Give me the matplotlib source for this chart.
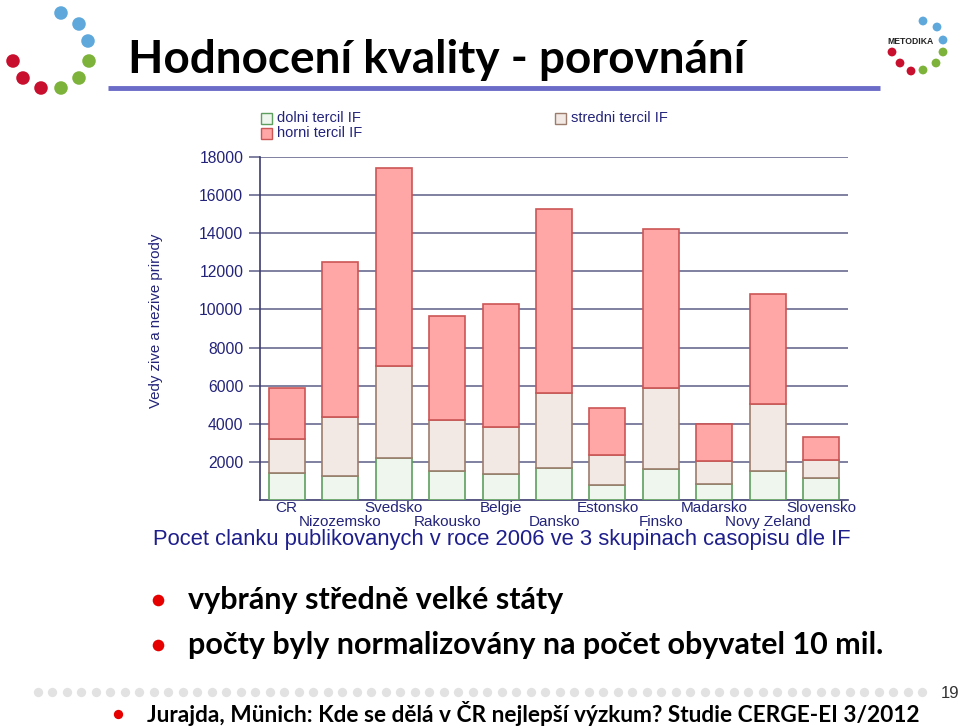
import matplotlib.pyplot as plt
import numpy as np

# data
countries = ['CR', 'Nizozemsko', 'Svedsko', 'Rakousko', 'Belgie', 'Dansko',
             'Estonsko', 'Finsko', 'Madarsko', 'Novy Zeland', 'Slovensko']
dolni = [1440, 1250, 2230, 1530, 1340, 1680, 780, 1650, 830, 1530, 1130]
stredni = [1780, 3100, 4820, 2650, 2480, 3930, 1590, 4220, 1220, 3510, 970]
horni = [2650, 8150, 10350, 5470, 6440, 9660, 2460, 8350, 1960, 5780, 1210]
series = ['dolni tercil IF', 'stredni tercil IF', 'horni tercil IF']
yticks = [2000, 4000, 6000, 8000, 10000, 12000, 14000, 16000, 18000]

title = 'Hodnocení kvality - porovnání'
bullets = ['vybrány středně velké státy',
           'počty byly normalizovány na počet obyvatel 10 mil.']
citation = 'Jurajda, Münich: Kde se dělá v ČR nejlepší výzkum? Studie CERGE-EI 3/2012'

W, H = 960, 727
navy = '#23237a'
fills = ['#eef6ee', '#f3e9e4', '#ffa6a6']
edges = ['#5e9e5e', '#9c7c6c', '#cc5555']

fig = plt.figure(figsize=(W / 100, H / 100), dpi=100)

# slide decorations, pixel coordinates
bg = fig.add_axes([0, 0, 1, 1])
bg.set_xlim(0, W)
bg.set_ylim(H, 0)
bg.axis('off')

bg.text(128, 60, title, fontsize=33, fontweight='bold', family='Lato',
        va='center', ha='left', color='black')
bg.plot([108, 880], [88, 88], color='#6b6bc8', lw=3.5, solid_capstyle='butt')

# logos
blue, green, red = '#5fa8dc', '#7db33a', '#c8102e'
lx = [61, 79, 88, 89, 79, 61, 41, 23, 13]
ly = [13, 24, 41, 61, 78, 88, 88, 78, 61]
lc = [blue] * 3 + [green] * 3 + [red] * 3
bg.scatter(lx, ly, s=95, c=lc, linewidths=0)
rx = [923, 937, 943, 943, 936, 923, 911, 900, 892]
ry = [21, 27, 40, 52, 63, 70, 71, 63, 52]
bg.scatter(rx, ry, s=40, c=lc, linewidths=0)
bg.text(910, 41, 'METODIKA', fontsize=6.2, fontweight='bold', ha='center',
        va='center', color='#222222', family='Liberation Sans')

# bullets
for i, b in enumerate(bullets):
    y = 600 + i * 45
    bg.scatter([158], [y], s=70, c='#e60000', linewidths=0)
    bg.text(188, y, b, fontsize=22, fontweight='bold', family='Lato',
            va='center', ha='left', color='black')

# footer
dx = np.linspace(38, 922, 62)
bg.scatter(dx, np.full_like(dx, 692), s=45, c='#e2e2e2', linewidths=0)
bg.text(950, 694, '19', fontsize=12, va='center', ha='center',
        family='Liberation Sans', color='#333333')
bg.scatter([118], [714], s=45, c='#e60000', linewidths=0)
bg.text(147, 714, citation, fontsize=16.3, fontweight='bold', family='Lato',
        va='center', ha='left', color='black')

# chart
ax = fig.add_axes([260 / W, 1 - 500 / H, 588 / W, 343 / H])
x = np.arange(len(countries))
bottom = np.zeros(len(countries))
for vals, f, e in zip([dolni, stredni, horni], fills, edges):
    ax.bar(x, vals, 0.675, bottom=bottom, color=f, edgecolor=e, linewidth=1.2, zorder=3)
    bottom += np.array(vals)

ax.set_xlim(-0.5, 10.5)
ax.set_ylim(0, 18000)
ax.set_yticks(yticks)
ax.set_yticklabels([str(t) for t in yticks], fontsize=11.3, color=navy,
                   family='Liberation Sans')
ax.grid(axis='y', color='#5c5c86', lw=1.1, zorder=0)
ax.tick_params(axis='y', length=8, width=1.1, color='#5c5c86', pad=4)

# staggered country labels: even ones on the major ticks, odd ones lower on minor ticks
ax.set_xticks(x[::2])
ax.set_xticklabels(countries[::2], fontsize=11, color=navy, family='Liberation Sans')
ax.set_xticks(x[1::2], minor=True)
ax.set_xticklabels(countries[1::2], minor=True, fontsize=11, color=navy,
                   family='Liberation Sans')
ax.tick_params(axis='x', which='major', length=0, pad=1)
ax.tick_params(axis='x', which='minor', length=0, pad=11)
for s in ['top', 'right']:
    ax.spines[s].set_visible(False)
for s in ['left', 'bottom']:
    ax.spines[s].set_color('#3c3c70')
    ax.spines[s].set_linewidth(1.2)

ax.set_ylabel('Vedy zive a nezive prirody', fontsize=10.8, color=navy,
              family='Liberation Sans')
ax.yaxis.set_label_coords((163 - 260) / 588, 0.522)

# legend
leg_pos = [(261, 118), (555, 118), (261, 133)]
for (px, py), name, f, e in zip(leg_pos, series, fills, edges):
    bg.add_patch(plt.Rectangle((px, py - 5.5), 11, 11, facecolor=f, edgecolor=e, lw=1))
    bg.text(px + 16, py, name, fontsize=10.5, color=navy, va='center',
            family='Liberation Sans')

bg.text(502, 540, 'Pocet clanku publikovanych v roce 2006 ve 3 skupinach casopisu dle IF',
        fontsize=15.8, color='#1e1e8c', ha='center', va='center', family='Liberation Sans')

fig.savefig('out.png', dpi=100)
